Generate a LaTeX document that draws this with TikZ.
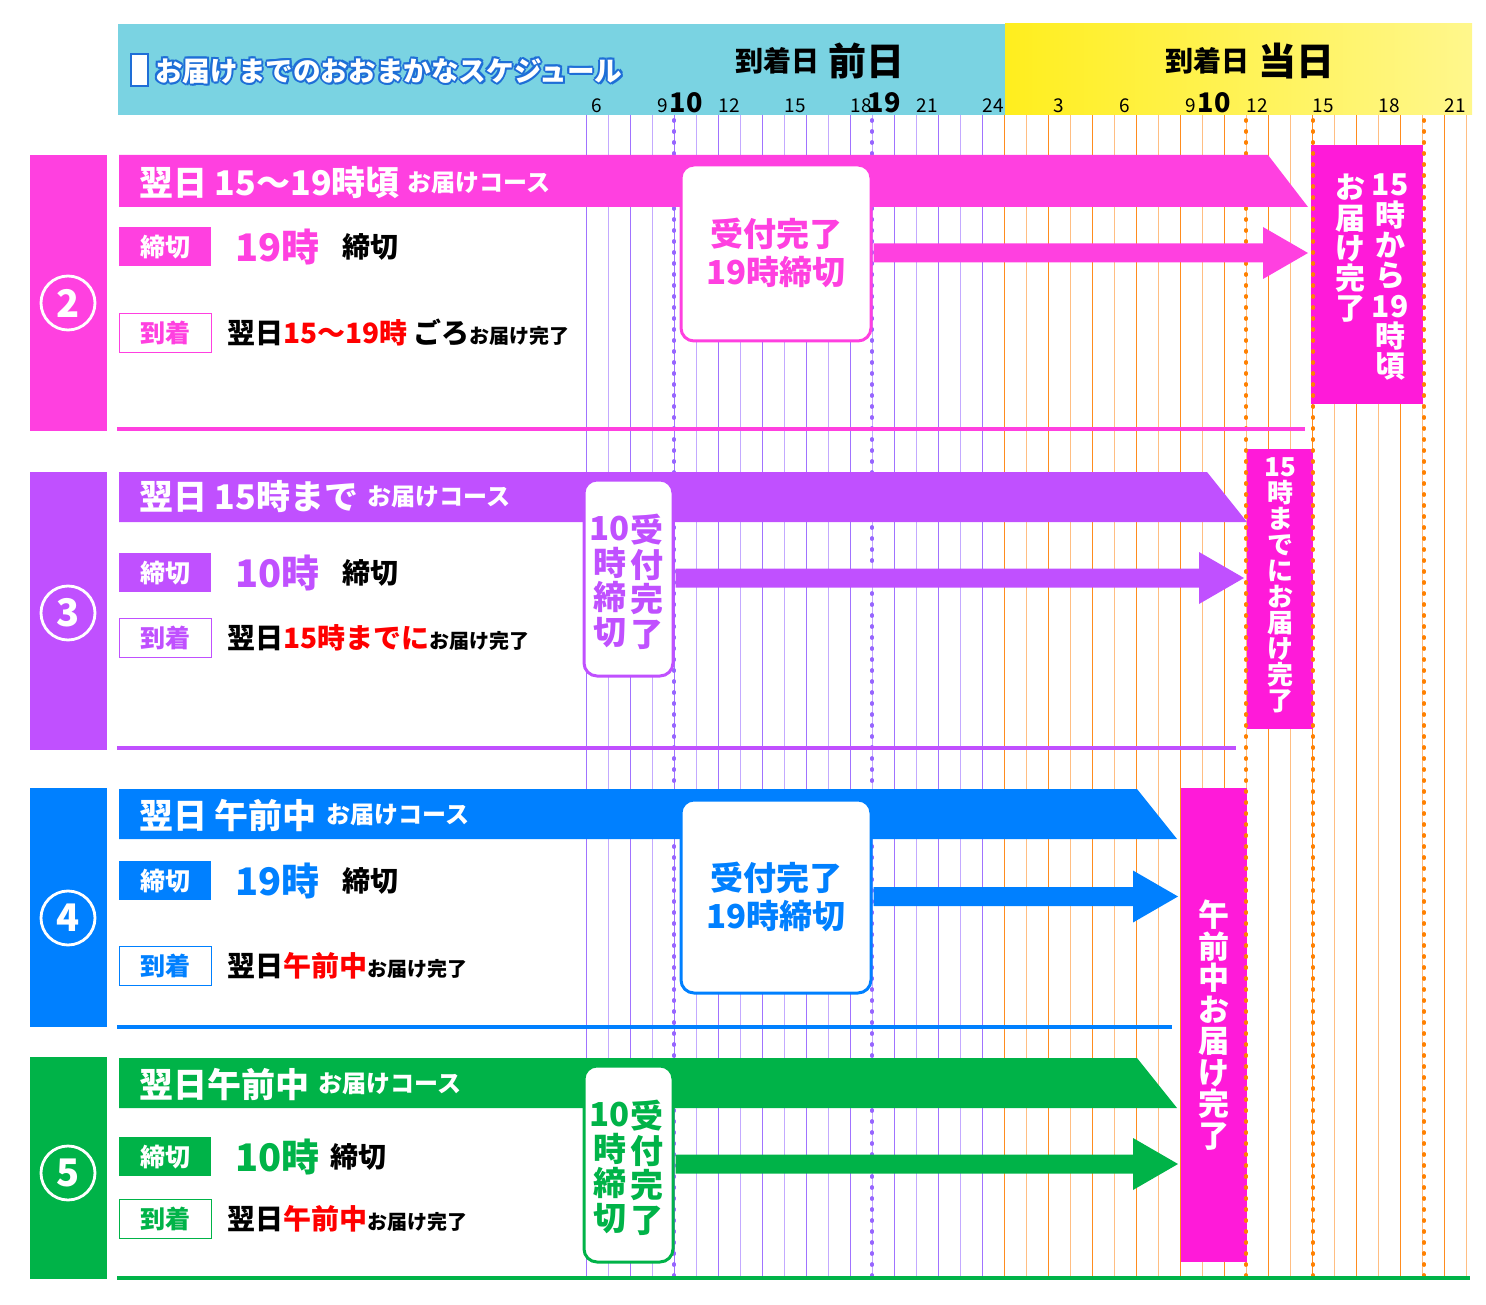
\documentclass[tikz,border=0pt]{standalone}
\usepackage{fontspec}
\setmainfont{Noto Sans CJK JP}
\usetikzlibrary{positioning, calc}

\definecolor{headblue}{RGB}{122,211,226}
\definecolor{yelleft}{RGB}{255,238,30}
\definecolor{yelright}{RGB}{255,247,140}
\definecolor{titleblue}{RGB}{30,110,215}
\definecolor{c2}{RGB}{255,64,224}
\definecolor{c3}{RGB}{192,80,255}
\definecolor{c4}{RGB}{0,128,255}
\definecolor{c5}{RGB}{0,179,72}
\definecolor{donemag}{RGB}{255,26,217}
\definecolor{gridp}{RGB}{160,115,255}
\definecolor{gridpl}{RGB}{195,170,255}
\definecolor{grido}{RGB}{255,140,30}
\definecolor{gridol}{RGB}{255,190,130}
\definecolor{dotp}{RGB}{150,100,255}
\definecolor{doto}{RGB}{255,128,0}

\newcommand*{\myred}[1]{\textcolor{red}{#1}}
\newcommand*{\tailtext}{{\fontsize{20}{22}\selectfont お届け完了}}
\newcommand*{\fatarrow}[3]{%
  \fill[#3] ($(#1.east)+(1,-9.5)$) -- ($(#2.west |- #1.east)+(-48,-9.5)$)
    -- ($(#2.west |- #1.east)+(-48,-26)$) -- ($(#2.west |- #1.east)+(-3,0)$)
    -- ($(#2.west |- #1.east)+(-48,26)$) -- ($(#2.west |- #1.east)+(-48,9.5)$)
    -- ($(#1.east)+(1,9.5)$) -- cycle;}

\begin{document}
\begin{tikzpicture}[x=1pt, y=-1pt,
        every node/.style={inner sep=0pt},
        vline/.style={line width=1pt},
        dotline/.style={line width=3.8pt, line cap=round, dash pattern=on 1pt off 10pt},
        titletext/.style={anchor=west, font=\bfseries\fontsize{27.6}{29}\selectfont},
        headtext/.style={font=\bfseries\fontsize{38}{40}\selectfont},
        tick/.style={anchor=base, font=\fontsize{19}{20}\selectfont},
        bigtick/.style={anchor=base, font=\bfseries\fontsize{27}{28}\selectfont},
        circ/.style={circle, draw=white, line width=2.8pt, minimum size=54pt, text=white, font=\bfseries\fontsize{38}{40}\selectfont},
        bantext/.style={text=white, anchor=west, font=\bfseries\fontsize{34}{36}\selectfont},
        subtext/.style={text=white, font=\bfseries\fontsize{24}{26}\selectfont},
        tagbox/.style={anchor=north west, minimum width=92pt, minimum height=39pt, font=\bfseries\fontsize{25}{27}\selectfont},
        hourtext/.style={font=\bfseries\fontsize{38}{40}\selectfont},
        plain/.style={font=\bfseries\fontsize{28}{30}\selectfont},
        accbox/.style={anchor=north west, fill=white, line width=3pt, rounded corners=13pt, align=center, font=\bfseries\fontsize{33}{38}\selectfont},
        vcol/.style={align=center, font=\bfseries\fontsize{33}{34.5}\selectfont},
        donebox/.style={anchor=north west, fill=donemag},
        vtext/.style={text=white, align=center, anchor=north, font=\bfseries\fontsize{30}{30.3}\selectfont},
        ]
\useasboundingbox (0,0) rectangle (1486,1305);

% header
\fill[headblue] (118,24) rectangle (1005,115);
\shade[left color=yelleft, right color=yelright] (1005,24) rectangle (1472,115);
\draw[fill=white, draw=titleblue, line width=1.5pt] (131,54) rectangle (148,86);
\foreach \dx/\dy [count=\i] in {-2/0,2/0,0/-2,0/2,-1.5/-1.5,1.5/1.5,-1.5/1.5,1.5/-1.5,1.5/2.5}
  \node[titletext, text=titleblue] (shade\i) at (155+\dx,71+\dy) {お届けまでのおおまかなスケジュール};
\node[titletext, text=white] (title) at (155,71) {お届けまでのおおまかなスケジュール};
\node[headtext] (prevday) at (820,61) {\raisebox{4pt}{\fontsize{28}{30}\selectfont 到着日} 前日};
\node[headtext] (sameday) at (1250,61) {\raisebox{4pt}{\fontsize{28}{30}\selectfont 到着日} 当日};

% hours
\foreach \h in {6,9,12,15,18,21,24}
  \node[tick] (p\h) at (465+22*\h,113) {\h};
\node[bigtick] (p10) at (686,113) {10};
\node[bigtick] (p19) at (884,113) {19};
\foreach \h in {3,6,9,12,15,18,21}
  \node[tick] (q\h) at (993+22*\h,113) {\h};
\node[bigtick] (q10) at (1214,113) {10};

% grid
\foreach \k in {0,2,...,18} \draw[vline, gridp] (586+22*\k,115) -- (586+22*\k,1280);
\foreach \k in {1,3,...,17} \draw[vline, gridpl] (586+22*\k,115) -- (586+22*\k,1280);
\foreach \k in {1,3,...,21} \draw[vline, grido] (982+22*\k,115) -- (982+22*\k,1280);
\foreach \k in {2,4,...,22} \draw[vline, gridol] (982+22*\k,115) -- (982+22*\k,1280);

\node[donebox, minimum width=112pt, minimum height=259pt] (done2) at (1311,145) {};
\node[donebox, minimum width=66pt, minimum height=280pt] (done3) at (1247,449) {};
\node[donebox, minimum width=66pt, minimum height=474pt] (done4) at (1181,788) {};

\foreach \x in {674,872} \draw[dotline, dotp] (\x,120) -- (\x,1280);
\foreach \x in {1246,1313,1424} \draw[dotline, doto] (\x,120) -- (\x,1280);

% course 2
\fill[c2] (30,155) rectangle (107,431);
\node[circ] (n2) at (68,303) {2};
\fill[c2] (119,155) -- (1268,155) -- (1308,207) -- (119,207) -- cycle;
\node[bantext] (t2) at (139,183) {翌日 15〜19時頃};
\node[subtext, right=7pt of t2] (s2) {お届けコース};
\node[tagbox, fill=c2, text=white] (k2) at (119,227) {締切};
\node[hourtext, text=c2, right=24pt of k2] (h2) {19時};
\node[plain, right=22pt of h2] (e2) {締切};
\node[tagbox, draw=c2, line width=1pt, fill=white, text=c2] (a2) at (119,313) {到着};
\node[plain, right=15pt of a2] (r2) {翌日\myred{15〜19時} ごろ\tailtext};
\draw[c2, line width=4pt] (117,429) -- (1305,429);
\node[accbox, draw=c2, text=c2, minimum width=190pt, minimum height=176pt] (acc2) at (679.5,163.5) {受付完了\\19時締切};
\fatarrow{acc2}{done2}{c2}
\node[vtext] (d2r) at ($(done2.north)+(23,29)$) {15\\時\\か\\ら\\19\\時\\頃};
\node[vtext] (d2l) at ($(done2.north)+(-17,29)$) {お\\届\\け\\完\\了};

% course 3
\fill[c3] (30,472) rectangle (107,750);
\node[circ] (n3) at (68,613) {3};
\fill[c3] (119,472) -- (1207,472) -- (1247,522) -- (119,522) -- cycle;
\node[bantext] (t3) at (139,497) {翌日 15時まで};
\node[subtext, right=9pt of t3] (s3) {お届けコース};
\node[tagbox, fill=c3, text=white] (k3) at (119,553) {締切};
\node[hourtext, text=c3, right=24pt of k3] (h3) {10時};
\node[plain, right=22pt of h3] (e3) {締切};
\node[tagbox, draw=c3, line width=1pt, fill=white, text=c3] (a3) at (119,618) {到着};
\node[plain, right=15pt of a3] (r3) {翌日\myred{15時までに}\tailtext};
\draw[c3, line width=4pt] (117,748) -- (1236,748);
\node[accbox, draw=c3, minimum width=89pt, minimum height=196pt] (acc3) at (582.5,478.5) {};
\node[vcol, text=c3] (acc3r) at ($(acc3.center)+(18,4)$) {受\\付\\完\\了};
\node[vcol, text=c3] (acc3l) at ($(acc3.center)+(-19,4)$) {10\\時\\締\\切};
\fatarrow{acc3}{done3}{c3}
\node[vtext, font=\bfseries\fontsize{26}{26}\selectfont] (d3) at ($(done3.north)+(0,8)$) {15\\時\\ま\\で\\に\\お\\届\\け\\完\\了};

% course 4
\fill[c4] (30,788) rectangle (107,1027);
\node[circ] (n4) at (68,918) {4};
\fill[c4] (119,789) -- (1137,789) -- (1177,839) -- (119,839) -- cycle;
\node[bantext] (t4) at (139,815) {翌日 午前中};
\node[subtext, right=9pt of t4] (s4) {お届けコース};
\node[tagbox, fill=c4, text=white] (k4) at (119,861) {締切};
\node[hourtext, text=c4, right=24pt of k4] (h4) {19時};
\node[plain, right=22pt of h4] (e4) {締切};
\node[tagbox, draw=c4, line width=1pt, fill=white, text=c4] (a4) at (119,946) {到着};
\node[plain, right=15pt of a4] (r4) {翌日\myred{午前中}\tailtext};
\draw[c4, line width=4pt] (117,1027) -- (1172,1027);
\node[accbox, draw=c4, text=c4, minimum width=190pt, minimum height=193pt] (acc4) at (679.5,798.5) {受付完了\\19時締切};
\fatarrow{acc4}{done4}{c4}
\node[vtext, anchor=center, font=\bfseries\fontsize{31}{31.5}\selectfont] (d4) at (done4.center) {午\\前\\中\\お\\届\\け\\完\\了};

% course 5
\fill[c5] (30,1057) rectangle (107,1279);
\node[circ] (n5) at (68,1173) {5};
\fill[c5] (119,1058) -- (1137,1058) -- (1177,1108) -- (119,1108) -- cycle;
\node[bantext] (t5) at (139,1084) {翌日午前中};
\node[subtext, right=9pt of t5] (s5) {お届けコース};
\node[tagbox, fill=c5, text=white] (k5) at (119,1137) {締切};
\node[hourtext, text=c5, right=24pt of k5] (h5) {10時};
\node[plain, right=10pt of h5] (e5) {締切};
\node[tagbox, draw=c5, line width=1pt, fill=white, text=c5] (a5) at (119,1199) {到着};
\node[plain, right=15pt of a5] (r5) {翌日\myred{午前中}\tailtext};
\draw[c5, line width=4pt] (117,1278) -- (1470,1278);
\node[accbox, draw=c5, minimum width=89pt, minimum height=196pt] (acc5) at (582.5,1064.5) {};
\node[vcol, text=c5] (acc5r) at ($(acc5.center)+(18,4)$) {受\\付\\完\\了};
\node[vcol, text=c5] (acc5l) at ($(acc5.center)+(-19,4)$) {10\\時\\締\\切};
\fatarrow{acc5}{done4}{c5}
\end{tikzpicture}
\end{document}
